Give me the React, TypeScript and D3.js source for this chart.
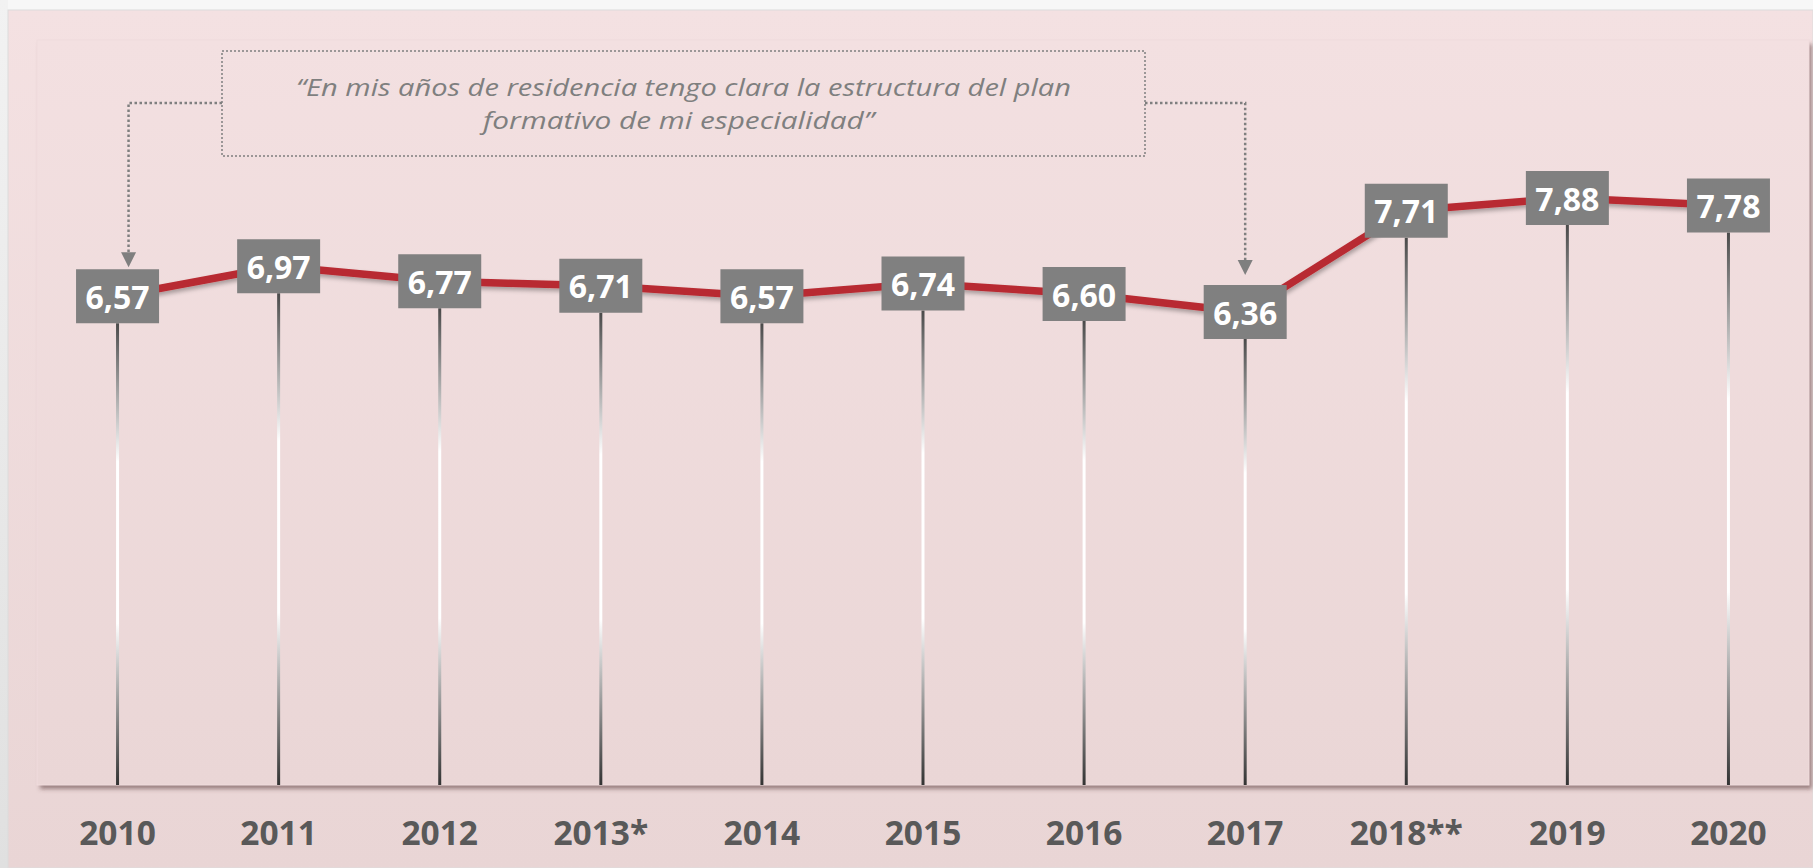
import React from "react";
import * as d3 from "d3";

const years = ["2010", "2011", "2012", "2013*", "2014", "2015", "2016", "2017", "2018**", "2019", "2020"];
const values = [6.57, 6.97, 6.77, 6.71, 6.57, 6.74, 6.6, 6.36, 7.71, 7.88, 7.78];
const quoteLines = [
  "\u201CEn mis años de residencia tengo clara la estructura del plan",
  "formativo de mi especialidad\u201D",
];
const arrowTargets = ["2010", "2017"];

const W = 1813;
const H = 868;

export default function App() {
  const panel = { x0: 37, x1: 1809, y0: 40, y1: 785 };
  const x = d3.scaleBand<string>().domain(years).range([panel.x0, panel.x1]).padding(0);
  const cx = (c: string) => (x(c) as number) + x.bandwidth() / 2;
  const y = d3.scaleLinear().domain([0, 10]).range([789, 39]);
  const boxW = 83;
  const boxH = 54;

  const pts = years.map((c, i) => ({ c, v: values[i] }));
  const line = d3
    .line<{ c: string; v: number }>()
    .x((d) => cx(d.c))
    .y((d) => y(d.v));

  const fmt = (v: number) => v.toFixed(2).replace(".", ",");

  const qBox = { x0: 222, x1: 1145, y0: 51, y1: 156 };
  const connY = 103;
  const leftTarget = pts.find((p) => p.c === arrowTargets[0])!;
  const rightTarget = pts.find((p) => p.c === arrowTargets[1])!;
  const lx = cx(leftTarget.c) + 11;
  const rx = cx(rightTarget.c);
  const ltip = y(leftTarget.v) - boxH / 2 - 2;
  const rtip = y(rightTarget.v) - boxH / 2 - 10;
  const ah = 15;

  const arrowHead = (ax: number, tip: number) =>
    `M${ax - 7.5},${tip - ah} L${ax + 7.5},${tip - ah} L${ax},${tip} Z`;

  return (
    <svg
      width={W}
      height={H}
      style={{ position: "absolute", left: 0, top: 0, display: "block" }}
      xmlns="http://www.w3.org/2000/svg"
    >
      <defs>
        <linearGradient id="bgGrad" x1="0" y1="0" x2="0" y2="1">
          <stop offset="0" stopColor="#f4e1e2" />
          <stop offset="1" stopColor="#e9d5d5" />
        </linearGradient>
        <linearGradient id="panelGrad" x1="0" y1="0" x2="0" y2="1">
          <stop offset="0" stopColor="#f3e0e1" />
          <stop offset="1" stopColor="#ead6d6" />
        </linearGradient>
        <linearGradient id="stemGrad" x1="0" y1="0" x2="0" y2="1">
          <stop offset="0" stopColor="#4a4a4a" />
          <stop offset="0.3" stopColor="#ffffff" />
          <stop offset="0.65" stopColor="#ffffff" />
          <stop offset="1" stopColor="#333333" />
        </linearGradient>
        <linearGradient id="leftGrad" x1="0" y1="0" x2="0" y2="1">
          <stop offset="0" stopColor="#f2f2f2" />
          <stop offset="1" stopColor="#e0e0e0" />
        </linearGradient>
        <filter id="panelShadow" x="-5%" y="-5%" width="110%" height="110%">
          <feDropShadow dx="3" dy="4" stdDeviation="2" floodColor="#5a3a3a" floodOpacity="0.55" />
        </filter>
        <filter id="lineShadow" x="-5%" y="-20%" width="110%" height="140%">
          <feDropShadow dx="1" dy="3" stdDeviation="2" floodColor="#000" floodOpacity="0.3" />
        </filter>
      </defs>

      {/* page background */}
      <rect x={0} y={0} width={W} height={H} fill="#f7f7f7" />
      <rect x={0} y={0} width={8} height={H} fill="url(#leftGrad)" />
      <rect x={8} y={10} width={W - 8} height={H - 10} fill="url(#bgGrad)" stroke="#dcdcdc" strokeWidth={1} />

      {/* inner panel */}
      <rect
        x={panel.x0}
        y={panel.y0}
        width={panel.x1 - panel.x0}
        height={panel.y1 - panel.y0}
        fill="url(#panelGrad)"
        filter="url(#panelShadow)"
      />
      <rect
        x={panel.x0}
        y={panel.y0}
        width={panel.x1 - panel.x0}
        height={panel.y1 - panel.y0}
        fill="none"
        stroke="#f0dcdd"
        strokeWidth={1}
      />

      {/* stems */}
      {pts.map((p) => {
        const top = y(p.v) + boxH / 2;
        return (
          <rect
            key={"s" + p.c}
            x={cx(p.c) - 1.5}
            y={top}
            width={3}
            height={panel.y1 - top}
            fill="url(#stemGrad)"
          />
        );
      })}

      {/* line */}
      <path d={line(pts) as string} fill="none" stroke="#b82a31" strokeWidth={7.5} strokeLinejoin="round" filter="url(#lineShadow)" />

      {/* value boxes */}
      {pts.map((p) => (
        <g key={"b" + p.c}>
          <rect x={cx(p.c) - boxW / 2} y={y(p.v) - boxH / 2} width={boxW} height={boxH} fill="#808080" />
          <text
            x={cx(p.c)}
            y={y(p.v) + 12.5}
            textAnchor="middle"
            fill="#ffffff"
            fontFamily="'Open Sans', sans-serif"
            fontWeight={700}
            fontSize={32}
          >
            {fmt(p.v)}
          </text>
        </g>
      ))}

      {/* year labels */}
      {years.map((c) => (
        <text
          key={"y" + c}
          x={cx(c)}
          y={845}
          textAnchor="middle"
          fill="#595959"
          fontFamily="'Open Sans', sans-serif"
          fontWeight={700}
          fontSize={33.5}
        >
          {c}
        </text>
      ))}

      {/* quote box */}
      <rect
        x={qBox.x0}
        y={qBox.y0}
        width={qBox.x1 - qBox.x0}
        height={qBox.y1 - qBox.y0}
        fill="none"
        stroke="#7f7f7f"
        strokeWidth={1.5}
        strokeDasharray="2,2"
      />
      <text
        x={(qBox.x0 + qBox.x1) / 2}
        y={96}
        textAnchor="middle"
        fill="#7f7f7f"
        fontFamily="'Open Sans', sans-serif"
        fontStyle="italic"
        fontSize={24}
        textLength={775}
        lengthAdjust="spacingAndGlyphs"
      >
        {quoteLines[0]}
      </text>
      <text
        x={(qBox.x0 + qBox.x1) / 2 - 5}
        y={129}
        textAnchor="middle"
        fill="#7f7f7f"
        fontFamily="'Open Sans', sans-serif"
        fontStyle="italic"
        fontSize={24}
        textLength={391}
        lengthAdjust="spacingAndGlyphs"
      >
        {quoteLines[1]}
      </text>

      {/* connectors */}
      <path
        d={`M${qBox.x0},${connY} H${lx} V${ltip - ah}`}
        fill="none"
        stroke="#7f7f7f"
        strokeWidth={2.5}
        strokeDasharray="2.5,2.5"
      />
      <path d={arrowHead(lx, ltip)} fill="#7f7f7f" />
      <path
        d={`M${qBox.x1},${connY} H${rx} V${rtip - ah}`}
        fill="none"
        stroke="#7f7f7f"
        strokeWidth={2.5}
        strokeDasharray="2.5,2.5"
      />
      <path d={arrowHead(rx, rtip)} fill="#7f7f7f" />
    </svg>
  );
}
